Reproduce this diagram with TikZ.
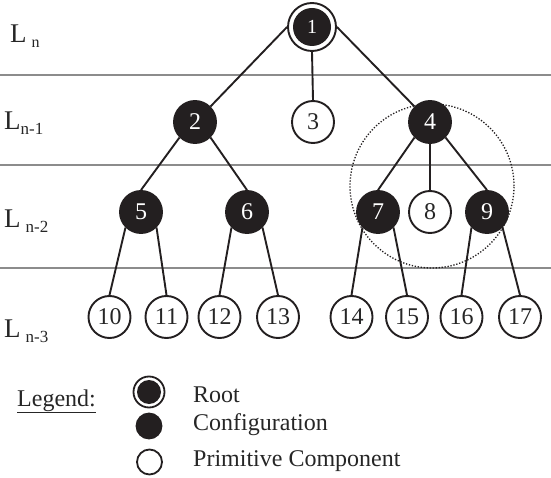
\documentclass[tikz,border=0pt]{standalone}
\usepackage{fontspec}
\setmainfont{Liberation Serif}
\begin{document}
\begin{tikzpicture}[x=1pt,y=-1pt]
\definecolor{ink}{HTML}{231F20}
\definecolor{txt}{HTML}{262626}
\definecolor{rule}{HTML}{8C8C8C}
\tikzset{
 num/.style={font=\fontsize{24}{24}\selectfont},
 cfg/.style={circle, draw=ink, fill=ink, line width=1.9pt, minimum size=42pt, inner sep=0pt, text=white, num},
 prim/.style={circle, draw=ink, fill=white, line width=1.9pt, minimum size=42pt, inner sep=0pt, text=txt, num},
 rootnode/.style={circle, draw=ink, fill=white, line width=1.9pt, minimum size=48pt, inner sep=0pt, text=white,
   font=\fontsize{20}{20}\selectfont,
   path picture={\fill[ink] (path picture bounding box.center) circle (19pt);}},
 edge/.style={draw=ink, line width=1.9pt},
 levelrule/.style={draw=rule, line width=2pt},
 lvl/.style={anchor=base west, inner sep=0pt, text=txt, font=\fontsize{27}{27}\selectfont},
 legtext/.style={anchor=base west, inner sep=0pt, text=txt, font=\fontsize{24}{24}\selectfont},
}
\useasboundingbox (0,0) rectangle (551,478);
% level rules
\coordinate (r1a) at (0,75);  \coordinate (r1b) at (551,75);
\coordinate (r2a) at (0,165); \coordinate (r2b) at (551,165);
\coordinate (r3a) at (0,268); \coordinate (r3b) at (551,268);
\draw[levelrule] (r1a) -- (r1b);
\draw[levelrule] (r2a) -- (r2b);
\draw[levelrule] (r3a) -- (r3b);
% dotted grouping circle
\coordinate (grp) at (432,186);
\draw[ink, line width=1.3pt, dash pattern=on 1.3pt off 1.7pt] (grp) circle (82pt);
% level labels
\node[lvl] (l0) at (10,43)  {L\hspace{5pt}\raisebox{-5pt}{\fontsize{16}{16}\selectfont n}};
\node[lvl] (l1) at (4,130)  {L\raisebox{-5pt}{\fontsize{17}{17}\selectfont n-1}};
\node[lvl] (l2) at (4,228)  {L\hspace{5pt}\raisebox{-5pt}{\fontsize{17}{17}\selectfont n-2}};
\node[lvl] (l3) at (4,337)  {L\hspace{5pt}\raisebox{-5pt}{\fontsize{17}{17}\selectfont n-3}};
% tree nodes
\node[rootnode] (n1) at (312,27) {1};
\node[cfg]  (n2) at (195,122) {2};
\node[prim] (n3) at (313,122) {3};
\node[cfg]  (n4) at (430,122) {4};
\node[cfg]  (n5) at (141,212) {5};
\node[cfg]  (n6) at (247,212) {6};
\node[cfg]  (n7) at (378,212) {7};
\node[prim] (n8) at (430,212) {8};
\node[cfg]  (n9) at (487,212) {9};
\node[prim] (n10) at (109.5,317) {10};
\node[prim] (n11) at (166.5,317) {11};
\node[prim] (n12) at (219.5,317) {12};
\node[prim] (n13) at (278,317) {13};
\node[prim] (n14) at (351.5,317) {14};
\node[prim] (n15) at (407,317) {15};
\node[prim] (n16) at (461.5,317) {16};
\node[prim] (n17) at (520,317) {17};
% edges
\draw[edge] (n1.west) -- (n2.north east);
\draw[edge] (n1.south) -- (n3.north);
\draw[edge] (n1.east) -- (n4.north west);
\draw[edge] (n2.south west) -- (n5.north);
\draw[edge] (n2.south east) -- (n6.north);
\draw[edge] (n4.south west) -- (n7.north);
\draw[edge] (n4.south) -- (n8.north);
\draw[edge] (n4.south east) -- (n9.north);
\draw[edge] (n5.south west) -- (n10.north);
\draw[edge] (n5.south east) -- (n11.north);
\draw[edge] (n6.south west) -- (n12.north);
\draw[edge] (n6.south east) -- (n13.north);
\draw[edge] (n7.south west) -- (n14.north);
\draw[edge] (n7.south east) -- (n15.north);
\draw[edge] (n9.south west) -- (n16.north);
\draw[edge] (n9.south east) -- (n17.north);
% legend
\node[legtext] (leg) at (17,406) {\underline{Legend:}};
\node[circle, draw=ink, fill=white, line width=1.8pt, minimum size=31pt, inner sep=0pt,
  path picture={\fill[ink] (path picture bounding box.center) circle (12pt);}] (lroot) at (149,392) {};
\node[circle, draw=ink, fill=ink, line width=1.8pt, minimum size=25pt, inner sep=0pt] (lcfg) at (149,426) {};
\node[circle, draw=ink, fill=white, line width=1.8pt, minimum size=25pt, inner sep=0pt] (lprim) at (149.5,462) {};
\node[legtext] (troot) at (193,402) {Root};
\node[legtext] (tcfg) at (193,430) {Configuration};
\node[legtext] (tprim) at (193,466) {Primitive Component};
\end{tikzpicture}
\end{document}
